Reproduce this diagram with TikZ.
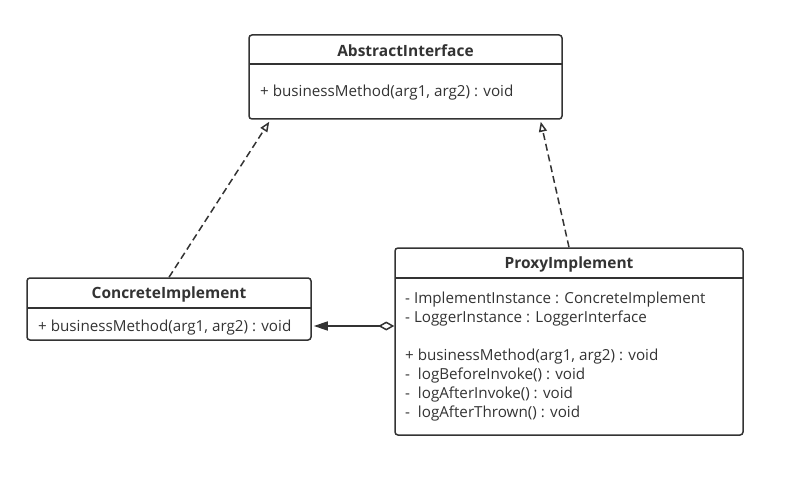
\documentclass[tikz,border=0pt]{standalone}
\usepackage{fontspec}
\setmainfont{Open Sans}
\usetikzlibrary{arrows.meta}
\definecolor{umlgray}{HTML}{333333}

\tikzset{
  classbox/.style={draw=umlgray, line width=1.5pt, rounded corners=3pt, inner sep=0pt},
  divider/.style={draw=umlgray, line width=1.5pt},
  classname/.style={font=\fontsize{15.5}{18}\selectfont\bfseries, text=umlgray, inner sep=0pt},
  member/.style={font=\fontsize{15.2}{18}\selectfont, text=umlgray, anchor=west, inner sep=0pt},
  realize/.style={draw=umlgray, line width=1.5pt, dash pattern=on 7pt off 4pt,
    -{Triangle[open, length=10pt, width=8pt, line width=1.5pt]}},
  aggregate/.style={draw=umlgray, line width=1.5pt,
    {Diamond[open, length=16pt, width=9pt, line width=1.5pt]}-{Triangle[length=14pt, width=9pt]}}
}

\begin{document}
\begin{tikzpicture}[x=1pt,y=-1pt]

\useasboundingbox (0,0) rectangle (794,486);

% AbstractInterface
\node[classbox, minimum width=313pt, minimum height=84pt] (abs) at (405.5,77) {};
\draw[divider] (249,64) -- (562,64);
\node[classname] (absname) at (405.5,51) {AbstractInterface};
\node[member] (absm1) at (260,93) {+ businessMethod(arg1, arg2) : void};

% ConcreteImplement
\node[classbox, minimum width=284pt, minimum height=62pt] (con) at (169,309) {};
\draw[divider] (27,308) -- (311,308);
\node[classname] (conname) at (169,294) {ConcreteImplement};
\node[member] (conm1) at (38,327.5) {+ businessMethod(arg1, arg2) : void};

% ProxyImplement
\node[classbox, minimum width=348pt, minimum height=187pt] (proxy) at (569,341.5) {};
\draw[divider] (395,278) -- (743,278);
\node[classname] (proxyname) at (569,264) {ProxyImplement};
\node[member] (proxya1) at (405,300) {- ImplementInstance : ConcreteImplement};
\node[member] (proxya2) at (405,319) {- LoggerInstance : LoggerInterface};
\node[member] (proxym1) at (405,357) {+ businessMethod(arg1, arg2) : void};
\node[member] (proxym2) at (405,376) {-\ \ logBeforeInvoke() : void};
\node[member] (proxym3) at (405,395) {-\ \ logAfterInvoke() : void};
\node[member] (proxym4) at (405,414) {-\ \ logAfterThrown() : void};

% relations
\draw[realize] (con.north) -- ([xshift=21pt, yshift=-2pt]abs.south west);
\draw[realize] (proxy.north) -- ([xshift=-22pt, yshift=-2pt]abs.south east);
\draw[aggregate, shorten >=2pt] (proxy.west |- 0,326) -- (con.east |- 0,326);

\end{tikzpicture}
\end{document}
